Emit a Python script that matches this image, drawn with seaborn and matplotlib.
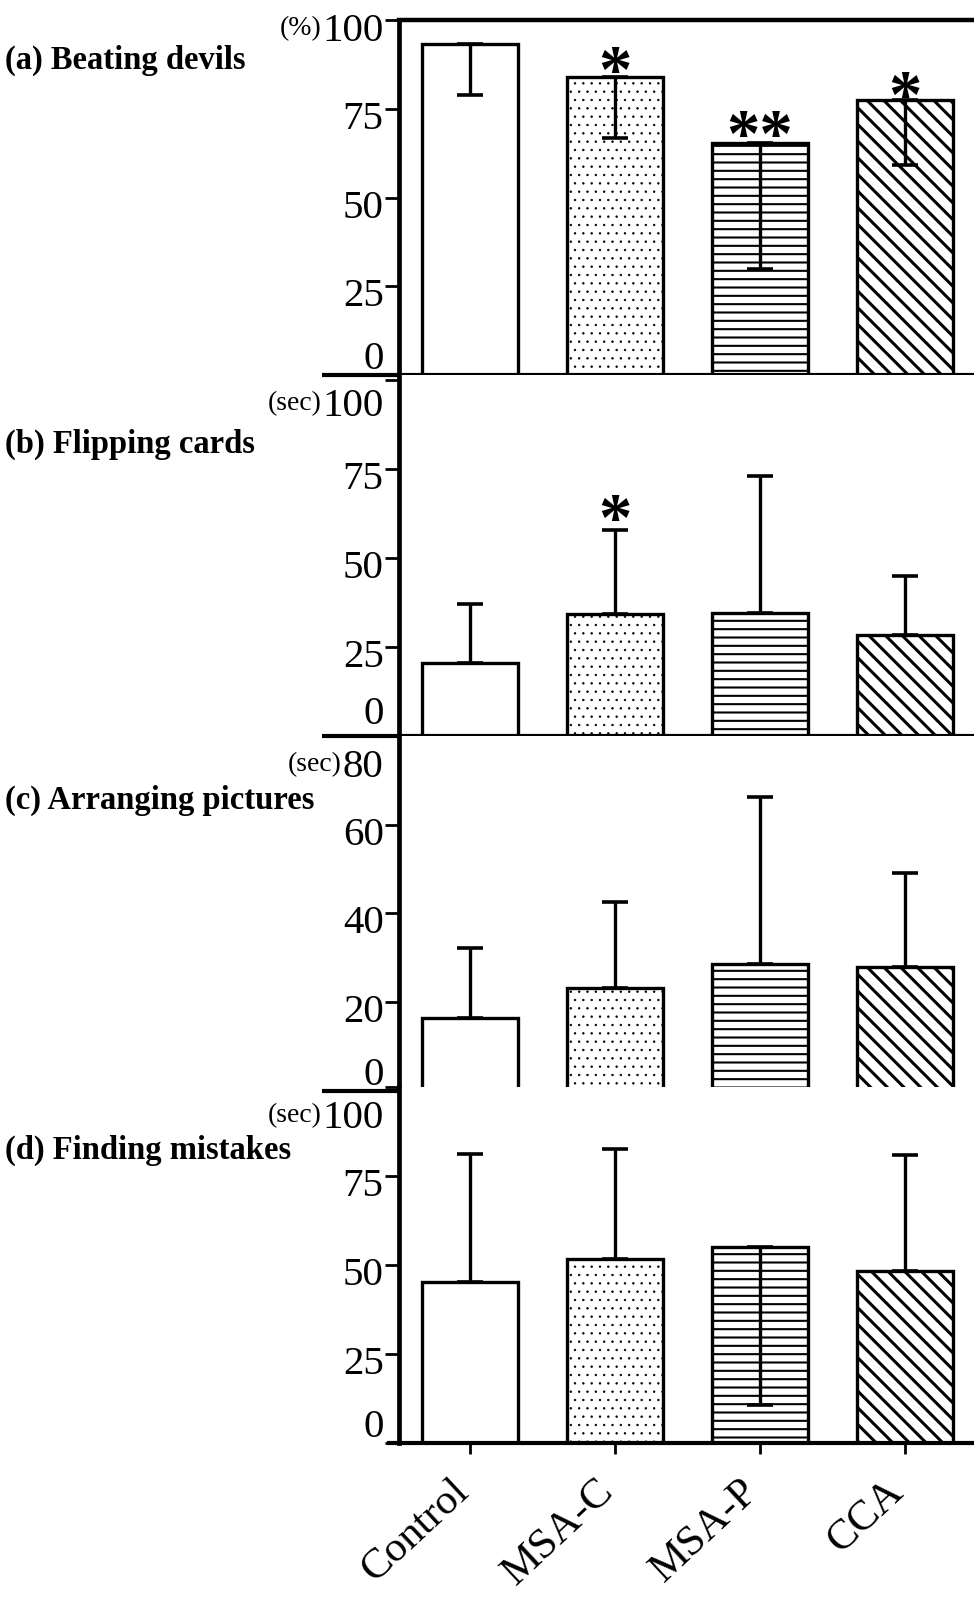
import numpy as np
import pandas as pd
import matplotlib
matplotlib.use("Agg")
import matplotlib.pyplot as plt
import matplotlib.transforms as mtransforms
import seaborn as sns

# ---------------- data ----------------
groups = ["Control", "MSA-C", "MSA-P", "CCA"]
hatches = ["", "..", "--", "\\\\"]

panel_titles = ["(a) Beating devils", "(b) Flipping cards",
                "(c) Arranging pictures", "(d) Finding mistakes"]
units = ["(%)", "(sec)", "(sec)", "(sec)"]

beating_mean = [93.1, 84.0, 65.4, 77.5]
beating_sd = [14.1, 17.3, 35.4, 18.4]
beating_dir = ["down", "down", "down", "down"]

flipping_mean = [20.4, 34.2, 34.6, 28.5]
flipping_sd = [16.7, 23.8, 38.3, 16.4]
flipping_dir = ["up", "up", "up", "up"]

arranging_mean = [16.4, 23.1, 28.5, 27.8]
arranging_sd = [15.8, 19.4, 37.8, 21.3]
arranging_dir = ["up", "up", "up", "up"]

finding_mean = [45.2, 51.7, 55.0, 48.3]
finding_sd = [35.9, 30.9, 44.4, 32.7]
finding_dir = ["up", "up", "down", "up"]

beating_stars = [(1, 88.9, "*"), (2, 71.0, "**"), (3, 82.0, "*")]
flipping_stars = [(1, 64.3, "*")]
arranging_stars = []
finding_stars = []

ticks_a = [0, 25, 50, 75, 100]
ticks_b = [0, 25, 50, 75, 100]
ticks_c = [0, 20, 40, 60, 80]
ticks_d = [0, 25, 50, 75, 100]
ylims = [(0, 100), (0, 101.4), (0, 80), (0, 100)]

panels = [
    (beating_mean, beating_sd, beating_dir, beating_stars, ticks_a),
    (flipping_mean, flipping_sd, flipping_dir, flipping_stars, ticks_b),
    (arranging_mean, arranging_sd, arranging_dir, arranging_stars, ticks_c),
    (finding_mean, finding_sd, finding_dir, finding_stars, ticks_d),
]

# ---------------- layout (pixels) ----------------
W, H = 974, 1614
DPI = 100
panel_px = [(20, 375), (375, 736), (736, 1090.7), (1087, 1443)]
ax_left_px = 399
xlim = (-0.491, 3.479)
axis_ext_px = [322, 322, 322, 387]
title_y_px = [60, 444, 800, 1150]
# vertical offsets (px, down positive) of tick labels
top_label_dy = [7, 22, 27, 27]
zero_label_dy = [-20, -26, -20, -20]
norm_label_dy = 6
hatch_lw = {"": 1.0, "..": 0.5, "--": 1.5, "\\\\": 2.2}

sns.set_style("ticks")
plt.rcParams["font.family"] = ["Liberation Serif", "DejaVu Serif"]
plt.rcParams["hatch.linewidth"] = 1.5

fig = plt.figure(figsize=(W / DPI, H / DPI), dpi=DPI)
fig.patch.set_facecolor("white")

axes = []
for i, (mean, sd, direc, stars, ticks) in enumerate(panels):
    top, bot = panel_px[i]
    ax = fig.add_axes([ax_left_px / W, 1 - bot / H, 1 - ax_left_px / W, (bot - top) / H])
    ax.set_facecolor("white")
    df = pd.DataFrame({"group": groups, "value": mean})
    sns.barplot(data=df, x="group", y="value", order=groups, color="white",
                saturation=1, edgecolor="black", linewidth=2.4, width=0.664,
                errorbar=None, ax=ax, zorder=2)
    for patch, h in zip(ax.patches, hatches):
        patch.set_hatch(h)
        patch.set_edgecolor("black")
        if hasattr(patch, "set_hatch_linewidth"):
            patch.set_hatch_linewidth(hatch_lw[h])
    lower = [s if d == "down" else 0 for s, d in zip(sd, direc)]
    upper = [s if d == "up" else 0 for s, d in zip(sd, direc)]
    xs = np.arange(len(groups))
    ax.errorbar(xs, mean, yerr=[lower, upper], fmt="none", ecolor="black",
                elinewidth=2.4, capsize=9.7, capthick=2.6, zorder=3)
    for gi, yv, txt in stars:
        ax.annotate(txt, xy=(gi, yv), xytext=(0, -23), textcoords="offset points",
                    ha="center", va="baseline", fontsize=48, fontweight="bold",
                    color="black", zorder=4, annotation_clip=False)

    ax.set_xlim(*xlim)
    ax.set_ylim(*ylims[i])
    ax.set_yticks(ticks)
    ax.set_yticklabels([str(t) for t in ticks])
    ax.set_xlabel("")
    ax.set_ylabel("")
    ax.spines["right"].set_visible(False)
    ax.spines["top"].set_visible(i == 0)
    ax.spines["top"].set_linewidth(3.2)
    ax.spines["left"].set_linewidth(3.4)
    ax.spines["bottom"].set_linewidth(3.0)
    for s in ax.spines.values():
        s.set_color("black")
        s.set_zorder(5)
    ax.tick_params(axis="y", direction="out", length=10, width=2.0, pad=1,
                   labelsize=29.5, colors="black")
    if i == 3:
        ax.tick_params(axis="x", direction="out", length=8, width=2.0, pad=13,
                       labelsize=31, colors="black", bottom=True)
        ax.set_xticks(xs)
        ax.set_xticklabels(groups, rotation=43, ha="right", va="top",
                           rotation_mode="anchor")
        for lab in ax.get_xticklabels():
            lab.set_transform(lab.get_transform() +
                              mtransforms.ScaledTranslation(-0.2, 0.0, fig.dpi_scale_trans))
    else:
        ax.tick_params(axis="x", bottom=False, labelbottom=False)
    # x-axis line extending left of y axis
    ext = (axis_ext_px[i] - ax_left_px) / (W - ax_left_px)
    ax.plot([ext, 0], [0, 0], transform=ax.transAxes, color="black", lw=3.0,
            clip_on=False, solid_capstyle="butt", zorder=5)
    # tick label vertical offsets
    for t, lab in zip(ticks, ax.get_yticklabels()):
        if t == ticks[-1]:
            dy = top_label_dy[i]
        elif t == 0:
            dy = zero_label_dy[i]
        else:
            dy = norm_label_dy
        lab.set_transform(lab.get_transform() +
                          mtransforms.ScaledTranslation(0, -dy / DPI, fig.dpi_scale_trans))
    axes.append(ax)

# panel titles
for i, t in enumerate(panel_titles):
    fig.text(5 / W, 1 - title_y_px[i] / H, t, ha="left", va="center",
             fontsize=23.5, fontweight="bold", color="black")

# unit labels, placed just left of the top tick label
fig.canvas.draw()
renderer = fig.canvas.get_renderer()
for i, ax in enumerate(axes):
    lab = ax.get_yticklabels()[-1]
    bb = lab.get_window_extent(renderer)
    x0 = bb.x0 / W
    yc = (bb.y0 + bb.y1) / 2 / H + 3 / H
    fig.text(x0 - 1 / W, yc, units[i], ha="right", va="center", fontsize=20,
             color="black")

fig.savefig("out.png", dpi=DPI, facecolor="white")
